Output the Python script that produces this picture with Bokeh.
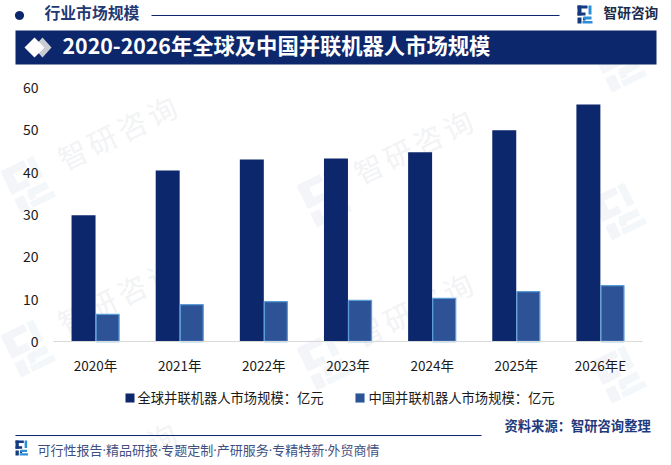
import math
from bokeh.embed import file_html
from bokeh.models import BoxAnnotation, Label, PolyAnnotation, Range1d, FixedTicker
from bokeh.plotting import figure
from bokeh.resources import INLINE

years = ["2020年", "2021年", "2022年", "2023年", "2024年", "2025年", "2026年E"]
global_market = [29.8, 40.4, 43.0, 43.2, 44.7, 49.9, 56.0]
china_market = [6.4, 8.7, 9.4, 9.7, 10.2, 11.8, 13.2]
y_ticks = [0, 10, 20, 30, 40, 50, 60]
series_names = ["全球并联机器人市场规模：亿元", "中国并联机器人市场规模：亿元"]

NAVY = "#0c276b"
BLUE = "#2d5296"
EDGE = "#5a9bd8"
FONT = "Noto Sans CJK SC"
W, H = 671, 465
# where the plot area sits on the page
AX_L, AX_R, AX_T, AX_B = 53.0, 642.0, 87.0, 341.0
n = len(years)
xs_per_px = n / (AX_R - AX_L)
ys_per_px = 60 / (AX_B - AX_T)
idx = list(range(n))

p = figure(width=W, height=H, output_backend="svg", toolbar_location=None,
           x_range=Range1d(-0.5 - AX_L * xs_per_px, -0.5 + (W - AX_L) * xs_per_px),
           y_range=Range1d(-(H - AX_B) * ys_per_px, AX_B * ys_per_px),
           min_border=0, min_border_left=0, min_border_right=0, min_border_top=0, min_border_bottom=0,
           background_fill_color="white", border_fill_color="white", outline_line_color=None)
p.grid.visible = False

p.yaxis.ticker = FixedTicker(ticks=y_ticks)
p.yaxis.fixed_location = -0.5
p.yaxis.bounds = (0, 60)
p.yaxis.axis_line_color = None
p.yaxis.major_tick_line_color = None
p.yaxis.minor_tick_line_color = None
p.yaxis.major_label_text_font = FONT
p.yaxis.major_label_text_font_size = "14px"
p.yaxis.major_label_text_color = "#1a1a1a"
p.yaxis.major_label_standoff = 9

p.xaxis.ticker = FixedTicker(ticks=idx)
p.xaxis.major_label_overrides = {i: y for i, y in enumerate(years)}
p.xaxis.fixed_location = 0
p.xaxis.bounds = (-0.5, n - 0.5)
p.xaxis.axis_line_color = "#d9d9d9"
p.xaxis.axis_line_width = 1.2
p.xaxis.major_tick_line_color = None
p.xaxis.minor_tick_line_color = None
p.xaxis.major_label_text_font = FONT
p.xaxis.major_label_text_font_size = "13.5px"
p.xaxis.major_label_text_color = "#1a1a1a"
p.xaxis.major_label_standoff = 7


def label(x, y, text, size, color, weight="normal", align="left", angle=0, level="annotation", font=FONT):
    p.add_layout(Label(x=x, y=H - y, x_units="screen", y_units="screen", text=text,
                       text_font=font, text_font_size=f"{size}px", text_color=color,
                       text_font_style=weight, text_align=align, text_baseline="middle",
                       angle=angle, angle_units="deg", level=level))


def box(l, t, r, b, color, level="annotation", alpha=1.0, line=None):
    p.add_layout(BoxAnnotation(left=l, right=r, top=H - t, bottom=H - b,
                               left_units="screen", right_units="screen",
                               top_units="screen", bottom_units="screen",
                               fill_color=color, fill_alpha=alpha, line_color=line, level=level))


def poly(xs, ys, color, level="annotation", alpha=1.0):
    p.add_layout(PolyAnnotation(xs=list(xs), ys=[H - y for y in ys],
                                xs_units="screen", ys_units="screen",
                                fill_color=color, fill_alpha=alpha, line_color=None, level=level))


# logo parts in a 15x18 unit box: (left, top, right, bottom, tone)
LOGO = [(0, 0, 10, 3, 0), (0, 0, 4, 10, 0), (0, 7, 8, 10, 0), (0, 12, 4, 18, 0), (5.5, 12, 8, 15, 0),
        (11, 0, 14, 9, 1), (6, 11, 14, 14, 1), (5, 15.5, 15, 18, 1)]


def logo(x, y, scale=1.0, angle=0.0, colors=("#123a80", "#2a8fd6"), level="annotation"):
    a = math.radians(angle)
    for l, t, r, b, tone in LOGO:
        xs, ys = [], []
        for u, v in [(l, t), (r, t), (r, b), (l, b)]:
            u, v = u * scale, v * scale
            xs.append(x + u * math.cos(a) + v * math.sin(a))
            ys.append(y - u * math.sin(a) + v * math.cos(a))
        poly(xs, ys, colors[tone], level=level)


# watermarks: characters that fall fully on the page, then the rotated logos
WM = "智研咨询"
WM_STEPS = [-1.5, -0.5, 0.5, 1.5]
ang = math.radians(26)
for cx, cy in [(116, 131), (412, 145), (116, 295), (412, 308), (116, 458), (412, 471),
               (707, 158), (707, 321)]:
    for ch, s in zip(WM, WM_STEPS):
        px = cx + s * 33 * math.cos(ang)
        py = cy - s * 33 * math.sin(ang)
        if 18 < px < W - 18 and 18 < py < H - 18:
            label(px, py, ch, 29, "#f2f3f5", align="center", angle=26, level="underlay")
for cx, cy in [(116, 131), (412, 145), (707, 158), (116, 295), (412, 308), (707, 321),
               (116, 458), (412, 471), (707, 10)]:
    logo(cx - 116, cy + 40, scale=2.6, angle=26, colors=("#f4f5f8", "#f4f7fa"), level="underlay")

x_off = 0.143
bar_w = 0.285
p.vbar(x=[i - x_off for i in idx], top=global_market, width=bar_w,
       fill_color=NAVY, line_color=None)
p.vbar(x=[i + x_off for i in idx], top=china_market, width=bar_w - 0.012,
       fill_color=BLUE, line_color=EDGE, line_width=1.3)

# legend
box(125, 393, 134, 402, NAVY)
label(137, 396.5, series_names[0], 13.3, "#1a1a1a")
box(355, 393, 364, 402, BLUE, line=EDGE)
label(368, 396.5, series_names[1], 13.3, "#1a1a1a")

# header
dot = [i * math.pi / 12 for i in range(24)]
poly([19 + 4.5 * math.cos(t) for t in dot], [15 + 4.5 * math.sin(t) for t in dot], "#0c276b")
box(151, 14.5, 559, 15.5, "#0c276b")
label(44, 12, "行业市场规模", 15.8, "#1f3a73", weight="bold")
logo(577, 5)
label(603, 11, "智研咨询", 13.7, "#1c2b4a", weight="bold")

# title banner
box(15, 30, 656, 64, "#0c276b")
poly([33, 42, 51, 42], [47, 37, 47, 57], "#c9ccd4")
poly([24, 34, 44, 34], [47, 37, 47, 57], "#ffffff")
label(62, 44, "2020-2026年全球及中国并联机器人市场规模", 21.3, "#ffffff", weight="bold")

# footer
box(15, 434.5, 481, 435.5, "#0c276b")
label(504, 425, "资料来源：智研咨询整理", 13.3, "#1f3a7d", weight="bold")
logo(15, 440, scale=0.83)
label(37, 449, "可行性报告·精品研报·专题定制·产研服务·专精特新·外贸商情", 13, "#3f5080",
      font="'Open Sans', 'Noto Sans CJK SC'")

open("out.html", "w").write(file_html(p, INLINE))
